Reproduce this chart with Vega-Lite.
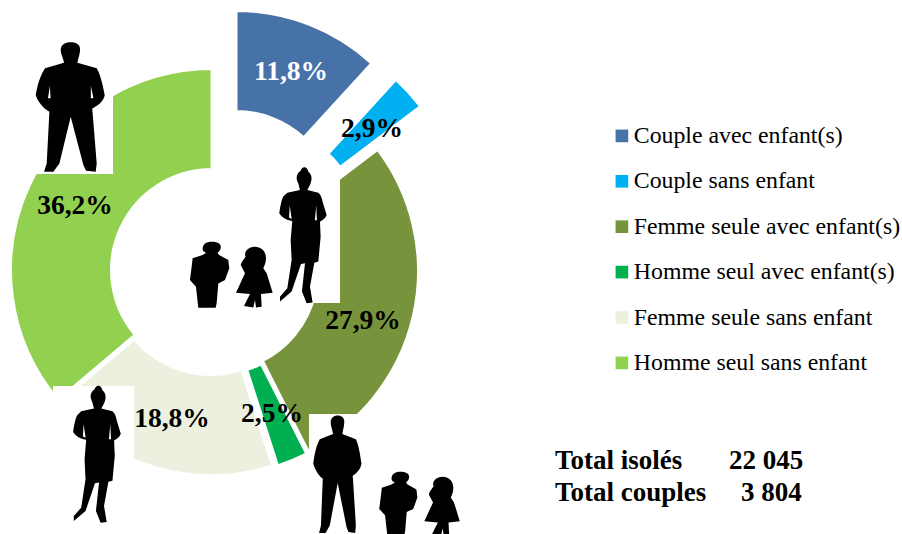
{"$schema":"https://vega.github.io/schema/vega-lite/v6.json","width":902,"height":534,"autosize":{"type":"none"},"padding":0,"background":"white","config":{"view":{"stroke":null}},"datasets":{"parts":[{"ordre":1,"categorie":"Couple avec enfant(s)","part":11.8,"etiquette":"11,8%","cx":236,"cy":212,"lx":291,"ly":72},{"ordre":2,"categorie":"Couple sans enfant","part":2.9,"etiquette":"2,9%","cx":260,"cy":228,"lx":372,"ly":129},{"ordre":3,"categorie":"Femme seule avec enfant(s)","part":27.9,"etiquette":"27,9%","cx":217,"cy":271,"lx":363,"ly":321},{"ordre":4,"categorie":"Homme seul avec enfant(s)","part":2.5,"etiquette":"2,5%","cx":216,"cy":274,"lx":272,"ly":414},{"ordre":5,"categorie":"Femme seule sans enfant","part":18.8,"etiquette":"18,8%","cx":211,"cy":274,"lx":172,"ly":419},{"ordre":6,"categorie":"Homme seul sans enfant","part":36.2,"etiquette":"36,2%","cx":212,"cy":270,"lx":75,"ly":206}]},"layer":[{"data":{"name":"parts"},"transform":[{"stack":"part","sort":[{"field":"ordre","order":"ascending"}],"as":["debut","fin"]}],"mark":{"type":"arc","innerRadius":100.5,"outerRadius":201.5,"stroke":"white","strokeWidth":3},"encoding":{"x":{"field":"cx","type":"quantitative","scale":{"domain":[0,902],"nice":false},"axis":null},"y":{"field":"cy","type":"quantitative","scale":{"domain":[534,0],"nice":false},"axis":null},"theta":{"field":"debut","type":"quantitative","scale":{"domain":[0,100.1],"range":[0,6.283185]}},"theta2":{"field":"fin"},"color":{"field":"categorie","type":"nominal","scale":{"domain":["Couple avec enfant(s)","Couple sans enfant","Femme seule avec enfant(s)","Homme seul avec enfant(s)","Femme seule sans enfant","Homme seul sans enfant"],"range":["#4672A8","#00B0F0","#77933C","#00B050","#EBF1DE","#92D050"]},"legend":{"title":null,"orient":"none","legendX":610,"legendY":124,"symbolType":"square","symbolSize":160,"symbolStrokeWidth":0,"labelFont":"Liberation Serif","labelFontSize":23.8,"labelColor":"#000000","labelLimit":320,"labelOffset":0,"rowPadding":20.4,"padding":0}}}},{"data":{"values":[{"cadre":"homme haut","x0":30,"x1":113,"y0":40,"y1":174},{"cadre":"femme et enfants","x0":270,"x1":340,"y0":170,"y1":303},{"cadre":"femme bas","x0":53,"x1":134,"y0":386,"y1":534},{"cadre":"homme et enfants bas","x0":309,"x1":470,"y0":414,"y1":534}]},"mark":{"type":"rect","color":"white"},"encoding":{"x":{"field":"x0","type":"quantitative","scale":{"domain":[0,902],"nice":false},"axis":null},"x2":{"field":"x1"},"y":{"field":"y0","type":"quantitative","scale":{"domain":[534,0],"nice":false},"axis":null},"y2":{"field":"y1"}}},{"data":{"values":[{"silhouette":"homme","x":70.7,"y":106.7},{"silhouette":"femme","x":303.3,"y":235.3},{"silhouette":"garcon","x":209.3,"y":274.7},{"silhouette":"fille","x":255,"y":277},{"silhouette":"femme2","x":97.3,"y":454.3},{"silhouette":"homme2","x":337.7,"y":474},{"silhouette":"garcon2","x":398,"y":503.7},{"silhouette":"fille2","x":442.7,"y":506}]},"mark":{"type":"point","filled":true,"color":"black","opacity":1,"strokeWidth":0,"clip":true},"encoding":{"x":{"field":"x","type":"quantitative","scale":{"domain":[0,902],"nice":false},"axis":null},"y":{"field":"y","type":"quantitative","scale":{"domain":[534,0],"nice":false},"axis":null},"size":{"field":"silhouette","type":"nominal","legend":null,"scale":{"type":"ordinal","domain":["homme","femme","garcon","fille","femme2","homme2","garcon2","fille2"],"range":[16900,18496,4356,3721,18769,13924,4096,3481]}},"shape":{"field":"silhouette","type":"nominal","legend":null,"scale":{"domain":["homme","femme","garcon","fille","femme2","homme2","garcon2","fille2"],"range":["M0 -.99C.09 -.99 .15 -.95 .144 -.872C.14 -.8 .12 -.76 .103 -.677L.4 -.59C.45 -.5 .48 -.4 .523 -.179C.51 -.1 .45 -.03 .33 .03L.338 .103L.4 .872L.385 1L.236 .985L.195 .897L0 .154L-.174 .872L-.267 1L-.41 1L-.369 .872L-.328 .077C-.42 .03 -.51 -.08 -.538 -.179C-.5 -.4 -.45 -.5 -.395 -.59L-.103 -.677C-.12 -.76 -.15 -.8 -.154 -.872C-.15 -.95 -.09 -.99 0 -.99ZM-.32 -.32L-.35 -.13L-.31 -.13ZM.31 -.32L.31 -.13L.35 -.13Z","M.015 -1C.05 -1 .07 -.96 .074 -.936C.12 -.9 .14 -.84 .098 -.74L.059 -.667L.221 -.627C.26 -.6 .27 -.55 .284 -.495L.343 -.299C.33 -.25 .28 -.22 .245 -.201L.255 .02L.221 .387L.162 .402L.098 .755L.137 .99L.049 1L-.02 .828L.025 .412L-.034 .422L-.172 .828L-.343 .975L-.343 .902L-.235 .779L-.172 .363L-.186 .069L-.162 -.211C-.22 -.22 -.3 -.24 -.353 -.324C-.34 -.42 -.32 -.52 -.294 -.569L-.235 -.627L-.049 -.667L-.074 -.765C-.11 -.83 -.11 -.9 -.039 -.951C-.03 -.98 -.01 -1 .015 -1ZM.19 -.44L.17 -.22L.2 -.22ZM-.2 -.44L-.21 -.26L-.17 -.24Z","M.07 -1C.25 -1 .38 -.93 .343 -.8C.33 -.72 .28 -.69 .25 -.66L.3 -.6L.576 -.444L.606 -.192L.475 .162L.273 .263L.222 .869L.192 1L-.333 1L-.404 .364L-.586 .162L-.535 -.242L-.505 -.495L-.2 -.6L-.1 -.66C-.16 -.69 -.21 -.72 -.202 -.8C-.19 -.93 -.1 -1 .07 -1Z","M0 -.995C.2 -.995 .36 -.85 .361 -.62C.36 -.45 .3 -.35 .273 -.284L.383 -.12L.579 .514L.197 .557L.219 .973L.033 1L0 .754L-.055 1L-.361 .951L-.164 .557L-.623 .514L-.328 -.12L-.47 -.393C-.45 -.5 -.38 -.55 -.31 -.667C-.38 -.85 -.2 -.995 0 -.995Z","M.015 -1C.05 -1 .07 -.96 .074 -.936C.12 -.9 .14 -.84 .098 -.74L.059 -.667L.221 -.627C.26 -.6 .27 -.55 .284 -.495L.343 -.299C.33 -.25 .28 -.22 .245 -.201L.255 .02L.221 .387L.162 .402L.098 .755L.137 .99L.049 1L-.02 .828L.025 .412L-.034 .422L-.172 .828L-.343 .975L-.343 .902L-.235 .779L-.172 .363L-.186 .069L-.162 -.211C-.22 -.22 -.3 -.24 -.353 -.324C-.34 -.42 -.32 -.52 -.294 -.569L-.235 -.627L-.049 -.667L-.074 -.765C-.11 -.83 -.11 -.9 -.039 -.951C-.03 -.98 -.01 -1 .015 -1ZM.19 -.44L.17 -.22L.2 -.22ZM-.2 -.44L-.21 -.26L-.17 -.24Z","M0 -.99C.07 -.99 .116 -.95 .111 -.872C.108 -.8 .092 -.76 .079 -.677L.308 -.59C.35 -.5 .37 -.4 .403 -.179C.39 -.1 .35 -.03 .254 .03L.26 .103L.308 .872L.296 1L.182 .985L.15 .897L0 .154L-.134 .872L-.206 1L-.316 1L-.284 .872L-.253 .077C-.32 .03 -.39 -.08 -.414 -.179C-.385 -.4 -.35 -.5 -.304 -.59L-.079 -.677C-.092 -.76 -.115 -.8 -.119 -.872C-.116 -.95 -.07 -.99 0 -.99Z","M.07 -1C.25 -1 .38 -.93 .343 -.8C.33 -.72 .28 -.69 .25 -.66L.3 -.6L.576 -.444L.606 -.192L.475 .162L.273 .263L.222 .869L.192 1L-.333 1L-.404 .364L-.586 .162L-.535 -.242L-.505 -.495L-.2 -.6L-.1 -.66C-.16 -.69 -.21 -.72 -.202 -.8C-.19 -.93 -.1 -1 .07 -1Z","M0 -.995C.2 -.995 .36 -.85 .361 -.62C.36 -.45 .3 -.35 .273 -.284L.383 -.12L.579 .514L.197 .557L.219 .973L.033 1L0 .754L-.055 1L-.361 .951L-.164 .557L-.623 .514L-.328 -.12L-.47 -.393C-.45 -.5 -.38 -.55 -.31 -.667C-.38 -.85 -.2 -.995 0 -.995Z"]}}}},{"data":{"name":"parts"},"mark":{"type":"text","font":"Liberation Serif","fontWeight":"bold","fontSize":27.5,"align":"center","baseline":"middle"},"encoding":{"x":{"field":"lx","type":"quantitative","scale":{"domain":[0,902],"nice":false},"axis":null},"y":{"field":"ly","type":"quantitative","scale":{"domain":[534,0],"nice":false},"axis":null},"text":{"field":"etiquette","type":"nominal"},"color":{"condition":{"test":"datum.ordre === 1","value":"white"},"value":"black"}}},{"data":{"values":[{"t":"Total isolés","x":555,"y":469},{"t":"22 045","x":729,"y":469},{"t":"Total couples","x":555,"y":501},{"t":"3 804","x":741,"y":501}]},"mark":{"type":"text","font":"Liberation Serif","fontWeight":"bold","fontSize":27,"align":"left","baseline":"alphabetic","color":"black"},"encoding":{"x":{"field":"x","type":"quantitative","scale":{"domain":[0,902],"nice":false},"axis":null},"y":{"field":"y","type":"quantitative","scale":{"domain":[534,0],"nice":false},"axis":null},"text":{"field":"t","type":"nominal"}}}]}
